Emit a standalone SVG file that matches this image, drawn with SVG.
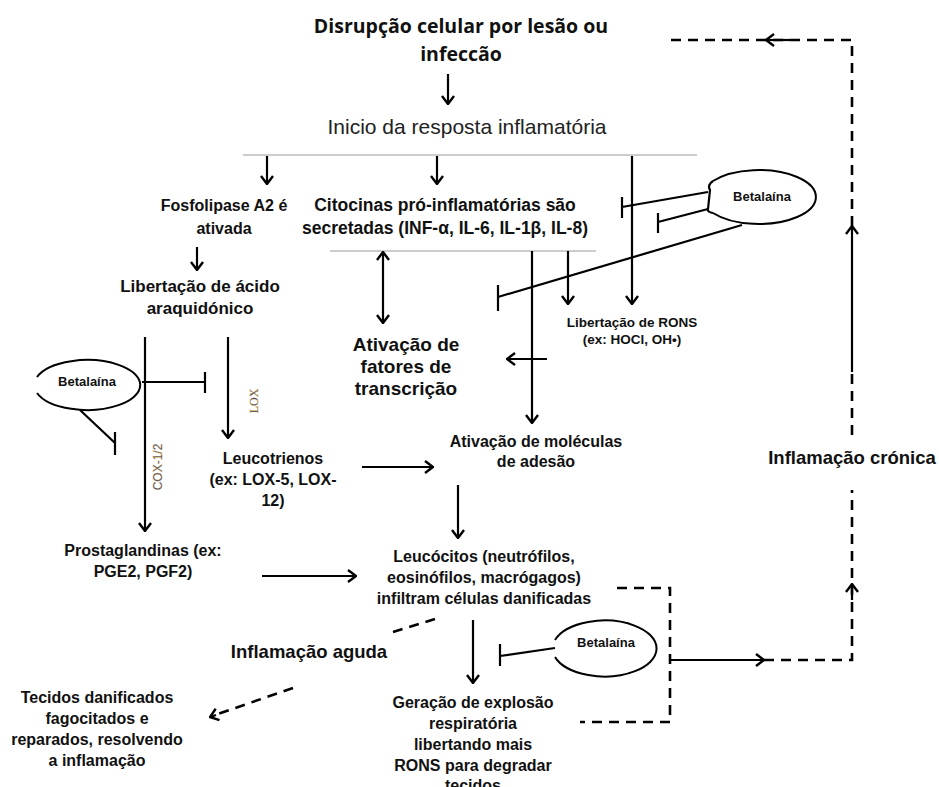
<svg xmlns="http://www.w3.org/2000/svg" width="939" height="787" viewBox="0 0 939 787">
<defs>
<marker id="arr" viewBox="0 0 10 14" refX="9" refY="7" markerWidth="10" markerHeight="14" markerUnits="userSpaceOnUse" orient="auto-start-reverse">
<path d="M1,1 L9,7 L1,13" fill="none" stroke="#000" stroke-width="2.4"/>
</marker>
</defs>
<style>
.t{font-family:"Liberation Sans",Arial,sans-serif;font-weight:bold;fill:#111;text-anchor:middle}
.s{font-size:16px}
.b{font-size:13px}
.ln{stroke:#000;stroke-width:2.2;fill:none}
.a{stroke:#000;stroke-width:2.2;fill:none;marker-end:url(#arr)}
.d{stroke:#000;stroke-width:2.6;fill:none;stroke-dasharray:10,7}
.g{stroke:#999;stroke-width:1;fill:none}
.e{stroke:#000;stroke-width:2;fill:#fff}
</style>
<rect width="939" height="787" fill="#fff"/>

<g id="title">
<text x="461" y="33" font-family="'Open Sans','Liberation Sans',sans-serif" font-weight="bold" font-size="19.5" text-anchor="middle" fill="#111">Disrupção celular por lesão ou</text>
<text x="461" y="61" font-family="'Open Sans','Liberation Sans',sans-serif" font-weight="bold" font-size="19.5" text-anchor="middle" fill="#111">infeccão</text>
</g>
<g id="inicio">
<text x="467" y="134" font-family="'Liberation Sans',Arial,sans-serif" font-size="21" text-anchor="middle" fill="#222">Inicio da resposta inflamatória</text>
</g>
<g id="fosfolipase">
<text class="t s" x="224" y="211">Fosfolipase A2 é</text>
<text class="t s" x="224" y="234">ativada</text>
</g>
<g id="citocinas">
<text class="t" font-size="17.5" x="445" y="211">Citocinas pró-inflamatórias são</text>
<text class="t" font-size="17.5" x="445" y="234">secretadas (INF-α, IL-6, IL-1β, IL-8)</text>
</g>
<g id="acido">
<text class="t" font-size="17" x="200" y="292">Libertação de ácido</text>
<text class="t" font-size="17" x="200" y="314">araquidónico</text>
</g>
<g id="rons">
<text class="t" font-size="13.5" x="632" y="327">Libertação de RONS</text>
<text class="t" font-size="13.5" x="632" y="344">(ex: HOCl, OH•)</text>
</g>
<g id="fatores">
<text class="t" font-size="19" x="406" y="351">Ativação de</text>
<text class="t" font-size="19" x="406" y="373">fatores de</text>
<text class="t" font-size="19" x="406" y="395">transcrição</text>
</g>
<g id="adesao">
<text class="t s" x="536" y="447">Ativação de moléculas</text>
<text class="t s" x="536" y="467">de adesão</text>
</g>
<g id="leucotrienos">
<text class="t s" x="273" y="464">Leucotrienos</text>
<text class="t s" x="273" y="485">(ex: LOX-5, LOX-</text>
<text class="t s" x="273" y="506">12)</text>
</g>
<g id="prostaglandinas">
<text class="t s" x="143" y="556">Prostaglandinas (ex:</text>
<text class="t s" x="143" y="577">PGE2, PGF2)</text>
</g>
<g id="leucocitos">
<text class="t s" x="484" y="562">Leucócitos (neutrófilos,</text>
<text class="t s" x="484" y="583">eosinófilos, macrógagos)</text>
<text class="t s" x="484" y="604">infiltram células danificadas</text>
</g>
<g id="aguda">
<text class="t" font-size="18.5" x="309" y="658">Inflamação aguda</text>
</g>
<g id="cronica">
<text class="t" font-size="18.5" x="852" y="464">Inflamação crónica</text>
</g>
<g id="tecidos">
<text class="t s" x="97" y="703">Tecidos danificados</text>
<text class="t s" x="97" y="724">fagocitados e</text>
<text class="t s" x="97" y="745">reparados, resolvendo</text>
<text class="t s" x="97" y="766">a inflamação</text>
</g>
<g id="geracao">
<text class="t s" x="473" y="708">Geração de explosão</text>
<text class="t s" x="473" y="729">respiratória</text>
<text class="t s" x="473" y="750">libertando mais</text>
<text class="t s" x="473" y="771">RONS para degradar</text>
<text class="t s" x="473" y="791">tecidos</text>
</g>
<g id="betalaina1">
<path class="e" d="M713,181 A57,27 0 1 1 713,213"/>
<path class="ln" stroke-width="1.8" d="M713,181 Q707,185 710,190 L708,209 Q707,212 713,213"/>
<text class="t b" x="762" y="201">Betalaína</text>
</g>
<g id="betalaina2">
<path class="e" d="M37,377 A53,25 0 1 1 37,393"/>
<text class="t b" x="87" y="386">Betalaína</text>
</g>
<g id="betalaina3">
<path class="e" d="M555,640 A52,28 0 1 1 555,657"/>
<text class="t b" x="606" y="647">Betalaína</text>
</g>
<g id="lox-label">
<text x="258" y="401" transform="rotate(-90 258 401)" font-family="'Liberation Serif',serif" font-size="12" text-anchor="middle" fill="#2b3a6b" stroke="#e8b84a" stroke-width="0.3">LOX</text>
</g>
<g id="cox-label">
<text x="162" y="467" transform="rotate(-90 162 467)" font-family="'Liberation Sans',sans-serif" font-size="12" text-anchor="middle" fill="#2b3a6b" stroke="#e8b84a" stroke-width="0.3">COX-1/2</text>
</g>

<g id="connectors">
<path class="a" d="M448,74 V104"/>
<path class="g" d="M243,155 H697"/>
<path class="a" d="M267,156 V184"/>
<path class="a" d="M437,156 V184"/>
<path class="a" d="M632,156 V304"/>
<path class="a" d="M197,247 V270"/>
<path class="g" d="M330,251 H596"/>
<path class="a" style="marker-start:url(#arr)" d="M383,252 V323"/>
<path class="a" d="M532,251 V423"/>
<path class="a" d="M568,251 V304"/>
<path class="a" d="M547,359 H507"/>
<path class="ln" d="M708,192 L622,207 M622,197 V218"/>
<path class="ln" d="M708,209 L658,222 M658,213 V233"/>
<path class="ln" d="M742,225 L498,297 M498,285 V311"/>
<path class="ln" d="M142,382 H205 M205,372 V393"/>
<path class="ln" d="M80,410 L115,443 M115,432 V455"/>
<path class="a" d="M145,337 V531"/>
<path class="a" d="M228,337 V438"/>
<path class="a" d="M362,467 H433"/>
<path class="a" d="M262,576 H356"/>
<path class="a" d="M458,485 V538"/>
<path class="a" d="M473,620 V683"/>
<path class="ln" d="M555,648 L500,656 M500,644 V666"/>
<path class="d" d="M617,588 H670 V722 H580"/>
<path class="a" d="M670,660 H764"/>
<path class="d" d="M764,660 H852 V490"/>
<path class="a" d="M852,600 V584"/>
<path class="d" d="M852,435 V370"/>
<path class="a" d="M852,372 V226"/>
<path class="d" d="M852,226 V40 H667"/>
<path class="a" d="M790,40 H766"/>
<path class="d" d="M435,619 L393,632"/>
<path class="d" d="M293,688 L212,716"/>
<path class="a" d="M216,715 L210,717"/>
</g>
</svg>
